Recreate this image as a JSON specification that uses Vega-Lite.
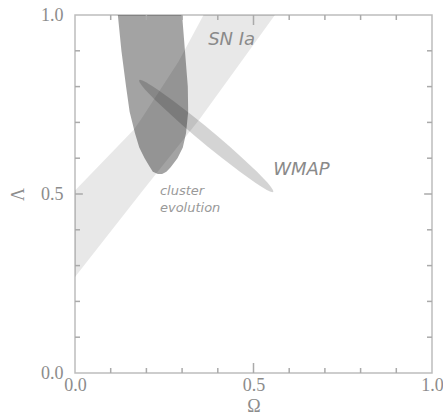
{
  "$schema": "https://vega.github.io/schema/vega-lite/v6.json",
  "width": 357,
  "height": 358,
  "autosize": "none",
  "padding": {"left": 75, "top": 15, "right": 11, "bottom": 45},
  "background": "white",
  "config": {
    "view": {"stroke": "#bdbdbd", "strokeWidth": 1.5},
    "axis": {"grid": false, "domain": false, "labelFont": "Liberation Serif", "labelFontSize": 18, "labelColor": "#8c8c8c", "titleFont": "Liberation Serif", "titleFontSize": 18, "titleColor": "#8c8c8c", "titleFontWeight": "normal", "labelFlush": false},
    "scale": {"zero": false, "nice": false}
  },
  "datasets": {
    "sn": [
      {"y": 0.268, "x1": 0.0, "x2": 0.0},
      {"y": 0.51, "x1": 0.0, "x2": 0.19},
      {"y": 0.68, "x1": 0.165, "x2": 0.326},
      {"y": 0.71, "x1": 0.186, "x2": 0.35},
      {"y": 0.87, "x1": 0.29, "x2": 0.466},
      {"y": 1.0, "x1": 0.36, "x2": 0.56}
    ],
    "cluster": [
      {"y": 0.556, "x1": 0.232, "x2": 0.244},
      {"y": 0.562, "x1": 0.218, "x2": 0.256},
      {"y": 0.575, "x1": 0.21, "x2": 0.268},
      {"y": 0.60, "x1": 0.195, "x2": 0.287},
      {"y": 0.63, "x1": 0.18, "x2": 0.302},
      {"y": 0.67, "x1": 0.168, "x2": 0.311},
      {"y": 0.73, "x1": 0.153, "x2": 0.317},
      {"y": 0.80, "x1": 0.143, "x2": 0.316},
      {"y": 0.90, "x1": 0.13, "x2": 0.308},
      {"y": 1.0, "x1": 0.12, "x2": 0.30}
    ],
    "wmap": [
      {"y": 0.505, "x1": 0.553, "x2": 0.553},
      {"y": 0.507, "x1": 0.546, "x2": 0.556},
      {"y": 0.512, "x1": 0.536, "x2": 0.554},
      {"y": 0.522, "x1": 0.519, "x2": 0.547},
      {"y": 0.532, "x1": 0.504, "x2": 0.539},
      {"y": 0.562, "x1": 0.462, "x2": 0.510},
      {"y": 0.602, "x1": 0.410, "x2": 0.467},
      {"y": 0.632, "x1": 0.372, "x2": 0.434},
      {"y": 0.662, "x1": 0.336, "x2": 0.399},
      {"y": 0.692, "x1": 0.301, "x2": 0.363},
      {"y": 0.722, "x1": 0.268, "x2": 0.325},
      {"y": 0.762, "x1": 0.225, "x2": 0.273},
      {"y": 0.792, "x1": 0.196, "x2": 0.231},
      {"y": 0.802, "x1": 0.188, "x2": 0.216},
      {"y": 0.812, "x1": 0.181, "x2": 0.199},
      {"y": 0.817, "x1": 0.179, "x2": 0.189},
      {"y": 0.819, "x1": 0.182, "x2": 0.182}
    ],
    "minorticks": [
      {"v": 0.1}, {"v": 0.2}, {"v": 0.3}, {"v": 0.4},
      {"v": 0.6}, {"v": 0.7}, {"v": 0.8}, {"v": 0.9}
    ],
    "majorticks": [
      {"v": 0.5}
    ],
    "biglabels": [
      {"label": "SN Ia", "x": 0.373, "y": 0.93},
      {"label": "WMAP", "x": 0.555, "y": 0.567}
    ],
    "smalllabels": [
      {"label": "cluster", "x": 0.238, "y": 0.508},
      {"label": "evolution", "x": 0.238, "y": 0.46}
    ]
  },
  "layer": [
    {
      "data": {"name": "sn"},
      "mark": {"type": "area", "orient": "horizontal", "color": "#000000", "opacity": 0.09},
      "encoding": {
        "y": {"field": "y", "type": "quantitative", "scale": {"domain": [0, 1]},
          "axis": {"orient": "left", "values": [0, 0.5, 1], "format": ".1f", "ticks": false, "labelPadding": 12, "title": "Λ", "titleAngle": -90, "titleBaseline": "alphabetic", "titleX": -52, "titleY": 179}},
        "x": {"field": "x1", "type": "quantitative", "scale": {"domain": [0, 1]},
          "axis": {"orient": "bottom", "values": [0, 0.5, 1], "format": ".1f", "ticks": false, "labelPadding": 3, "title": "Ω", "titleBaseline": "top", "titleY": 24}},
        "x2": {"field": "x2"}
      }
    },
    {
      "data": {"name": "cluster"},
      "mark": {"type": "area", "orient": "horizontal", "color": "#000000", "opacity": 0.36},
      "encoding": {
        "y": {"field": "y", "type": "quantitative"},
        "x": {"field": "x1", "type": "quantitative"},
        "x2": {"field": "x2"}
      }
    },
    {
      "data": {"name": "wmap"},
      "mark": {"type": "area", "orient": "horizontal", "color": "#000000", "opacity": 0.17},
      "encoding": {
        "y": {"field": "y", "type": "quantitative"},
        "x": {"field": "x1", "type": "quantitative"},
        "x2": {"field": "x2"}
      }
    },
    {
      "data": {"name": "minorticks"},
      "mark": {"type": "rule", "color": "#aaaaaa", "strokeWidth": 1.5},
      "encoding": {
        "x": {"field": "v", "type": "quantitative"},
        "y": {"datum": 0, "type": "quantitative"},
        "y2": {"datum": 0.014}
      }
    },
    {
      "data": {"name": "minorticks"},
      "mark": {"type": "rule", "color": "#aaaaaa", "strokeWidth": 1.5},
      "encoding": {
        "x": {"field": "v", "type": "quantitative"},
        "y": {"datum": 1, "type": "quantitative"},
        "y2": {"datum": 0.986}
      }
    },
    {
      "data": {"name": "minorticks"},
      "mark": {"type": "rule", "color": "#aaaaaa", "strokeWidth": 1.5},
      "encoding": {
        "y": {"field": "v", "type": "quantitative"},
        "x": {"datum": 0, "type": "quantitative"},
        "x2": {"datum": 0.014}
      }
    },
    {
      "data": {"name": "minorticks"},
      "mark": {"type": "rule", "color": "#aaaaaa", "strokeWidth": 1.5},
      "encoding": {
        "y": {"field": "v", "type": "quantitative"},
        "x": {"datum": 1, "type": "quantitative"},
        "x2": {"datum": 0.986}
      }
    },
    {
      "data": {"name": "majorticks"},
      "mark": {"type": "rule", "color": "#aaaaaa", "strokeWidth": 1.5},
      "encoding": {
        "x": {"field": "v", "type": "quantitative"},
        "y": {"datum": 0, "type": "quantitative"},
        "y2": {"datum": 0.028}
      }
    },
    {
      "data": {"name": "majorticks"},
      "mark": {"type": "rule", "color": "#aaaaaa", "strokeWidth": 1.5},
      "encoding": {
        "x": {"field": "v", "type": "quantitative"},
        "y": {"datum": 1, "type": "quantitative"},
        "y2": {"datum": 0.972}
      }
    },
    {
      "data": {"name": "majorticks"},
      "mark": {"type": "rule", "color": "#aaaaaa", "strokeWidth": 1.5},
      "encoding": {
        "y": {"field": "v", "type": "quantitative"},
        "x": {"datum": 0, "type": "quantitative"},
        "x2": {"datum": 0.022}
      }
    },
    {
      "data": {"name": "majorticks"},
      "mark": {"type": "rule", "color": "#aaaaaa", "strokeWidth": 1.5},
      "encoding": {
        "y": {"field": "v", "type": "quantitative"},
        "x": {"datum": 1, "type": "quantitative"},
        "x2": {"datum": 0.978}
      }
    },
    {
      "data": {"name": "biglabels"},
      "mark": {"type": "text", "align": "left", "baseline": "middle", "font": "DejaVu Sans", "fontStyle": "italic", "fontSize": 18, "color": "#8a8a8a"},
      "encoding": {
        "x": {"field": "x", "type": "quantitative"},
        "y": {"field": "y", "type": "quantitative"},
        "text": {"field": "label"}
      }
    },
    {
      "data": {"name": "smalllabels"},
      "mark": {"type": "text", "align": "left", "baseline": "middle", "font": "DejaVu Sans", "fontStyle": "italic", "fontSize": 13, "letterSpacing": 0.6, "color": "#999999"},
      "encoding": {
        "x": {"field": "x", "type": "quantitative"},
        "y": {"field": "y", "type": "quantitative"},
        "text": {"field": "label"}
      }
    }
  ]
}
